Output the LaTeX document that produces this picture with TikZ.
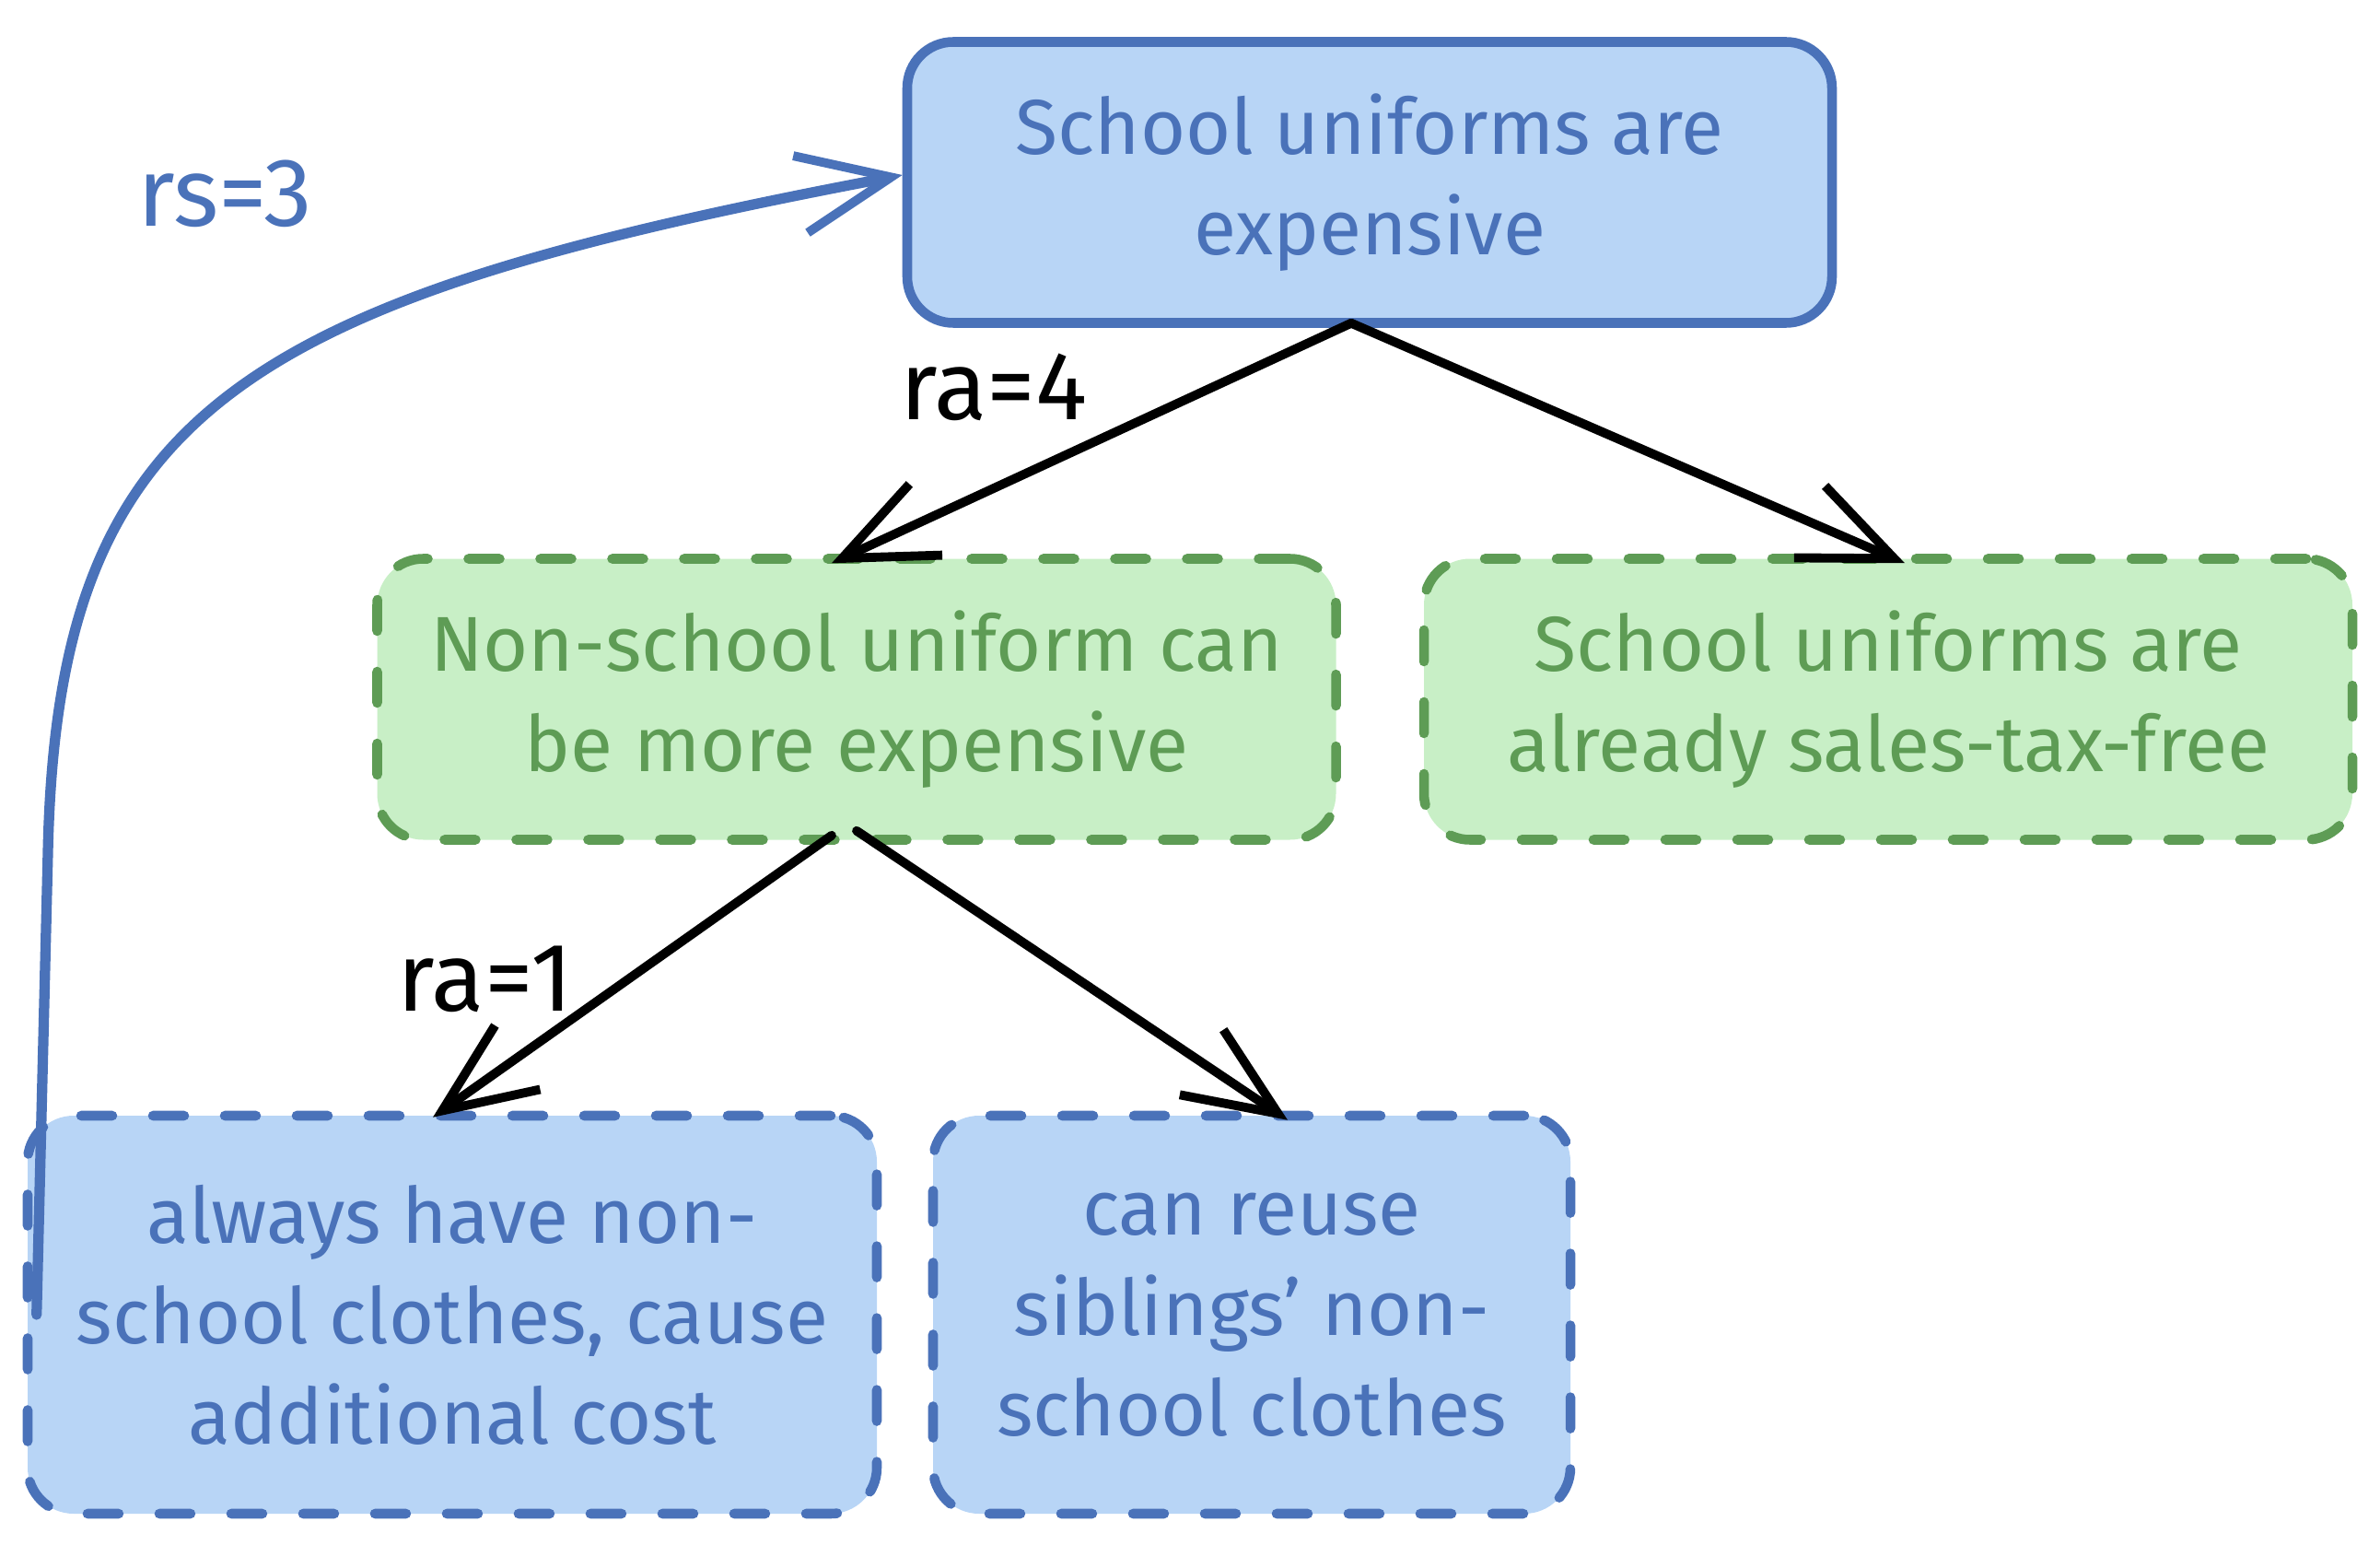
\documentclass[tikz,border=0pt]{standalone}
\usepackage{fontspec}
\setmainfont{Fira Sans}
\usepackage{xcolor}
\usepackage{tikz}
\usetikzlibrary{positioning,calc,arrows.meta}
\definecolor{claimfill}{HTML}{B8D5F6}
\definecolor{claimline}{HTML}{4A72B9}
\definecolor{attackfill}{HTML}{C8EFC6}
\definecolor{attackline}{HTML}{5E9C55}

\begin{document}
\begin{tikzpicture}[
        font=\fontsize{24}{31}\selectfont,
        box/.style={rounded corners=0.5cm, line width=3pt, align=center, inner sep=0pt},
        bluebox/.style={box, draw=claimline, fill=claimfill, text=claimline},
        dashbox/.style={line cap=round, dash pattern=on 0.34cm off 0.44cm},
        greenbox/.style={box, dashbox, draw=attackline, fill=attackfill, text=attackline},
        edge/.style={line width=2.8pt, line cap=round, -{Straight Barb[length=1.0cm, width=0.85cm, line width=2.8pt]}},
        weight/.style={font=\fontsize{30}{34}\selectfont}
    ]
        \useasboundingbox (0,0) rectangle (25.84,16.76);

        % Nodes
        \node[bluebox, minimum width=10.04cm, minimum height=3.05cm] (top) at (14.87,14.78) {School uniforms are\\expensive};
        \node[greenbox, minimum width=10.41cm, minimum height=3.05cm] (midl) at (9.30,9.17) {Non-school uniform can\\be more expensive};
        \node[greenbox, minimum width=10.08cm, minimum height=3.05cm] (midr) at (20.50,9.17) {School uniforms are\\already sales-tax-free};
        \node[bluebox, dashbox, minimum width=9.22cm, minimum height=4.32cm] (botl) at (4.91,2.49) {always have non-\\school clothes, cause\\additional cost};
        \node[bluebox, dashbox, minimum width=6.92cm, minimum height=4.32cm] (botr) at (13.59,2.49) {can reuse\\siblings’ non-\\school clothes};

        % Connectors
        \draw[edge] ($(top.south)+(-0.2,0.05)$) -- ($(midl.north)+(-0.27,-0.1)$);
        \draw[edge] ($(top.south)+(-0.2,0.05)$) -- ($(midr.north)+(0.18,-0.1)$);
        \draw[edge] ($(midl.south)+(-0.27,0.1)$) -- ($(botl.north)+(-0.21,-0.07)$);
        \draw[edge] ($(midl.south)+(0.0,0.15)$) -- ($(botr.north)+(0.39,-0.1)$);
        \draw[edge, claimline, line width=3.2pt] ($(botl.west)+(0.15,0)$) -- (0.52,7.5)
            .. controls (0.62,12.3) and (2.6,13.5) .. ($(top.west)+(0.0,0.08)$);

        % Labels
        \node[weight, text=claimline] (rs) at (2.44,14.66) {rs=3};
        \node[weight] (ra4) at (10.79,12.56) {ra=4};
        \node[weight] (ra1) at (5.27,6.13) {ra=1};
    \end{tikzpicture}
\end{document}
